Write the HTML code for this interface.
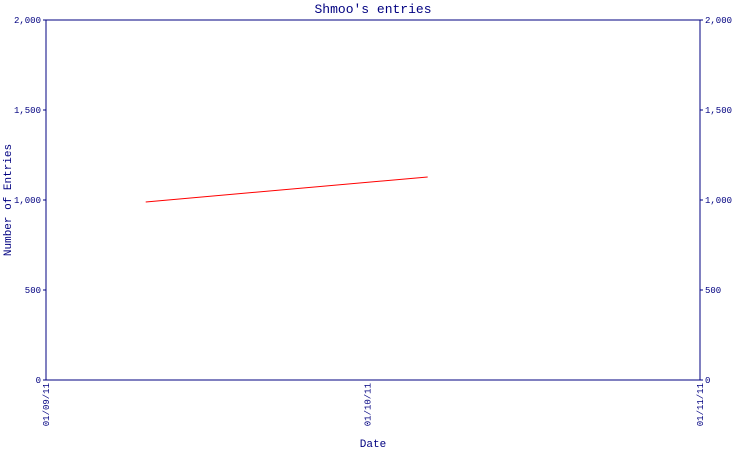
<!DOCTYPE html>
<html><head><meta charset="utf-8"><style>
body{margin:0;background:#fff}
svg text{font-family:"Liberation Mono","DejaVu Sans Mono",monospace;fill:#000080}
</style></head><body>
<svg id="chart" width="750" height="450" xmlns="http://www.w3.org/2000/svg">
<rect width="750" height="450" fill="#fff"/>
<text x="373" y="13" text-anchor="middle" font-size="13">Shmoo's entries</text>
<text transform="translate(11,200) rotate(-90)" text-anchor="middle" font-size="11">Number of Entries</text>
<text x="373" y="447" text-anchor="middle" font-size="11">Date</text>
<g id="axes"></g>
<g id="marks"></g>
</svg>
<script>
const xDays = [9.3, 35.6];
const yValues = [989, 1128];
const yTicks = [0, 500, 1000, 1500, 2000];
const yTickLabels = ["0", "500", "1,000", "1,500", "2,000"];
const xTickDays = [0, 30, 61];
const xTickLabels = ["01/09/11", "01/10/11", "01/11/11"];
const L=46,R=700,T=20,B=380;
const xs=d=>L+(d-0)/(61-0)*(R-L);
const ys=v=>B-v/2000*(B-T);
const NS="http://www.w3.org/2000/svg";
const ax=document.getElementById('axes'), mk=document.getElementById('marks');
function mkEl(t,a,p){const e=document.createElementNS(NS,t);for(const k in a)e.setAttribute(k,a[k]);p.appendChild(e);return e;}
const frame=mkEl('rect',{x:L,y:T,width:R-L,height:B-T,fill:'none',stroke:'#000080','stroke-width':1},ax);


yTicks.forEach((v,i)=>{
  const y=ys(v);
  const t1=mkEl('line',{x1:L-3,x2:L,y1:y,y2:y,stroke:'#000080'},ax);
  
  
  const t2=mkEl('line',{x1:R,x2:R+3,y1:y,y2:y,stroke:'#000080'},ax);
  
  
  const a=mkEl('text',{x:L-5,y:y+3,'text-anchor':'end','font-size':9},ax);a.textContent=yTickLabels[i];
  
  
  const b=mkEl('text',{x:R+5,y:y+3,'text-anchor':'start','font-size':9},ax);b.textContent=yTickLabels[i];
  
  
});
xTickDays.forEach((d,i)=>{
  const x=xs(d);
  const t=mkEl('text',{transform:`translate(${x+3},${B+3}) rotate(-90)`,'text-anchor':'end','font-size':9},ax);t.textContent=xTickLabels[i];
  
  
});
const pts=xDays.map((d,i)=>xs(d)+','+ys(yValues[i])).join(' ');
const line=mkEl('polyline',{points:pts,fill:'none',stroke:'#ff0000','stroke-width':1},mk);


</script>
</body></html>
